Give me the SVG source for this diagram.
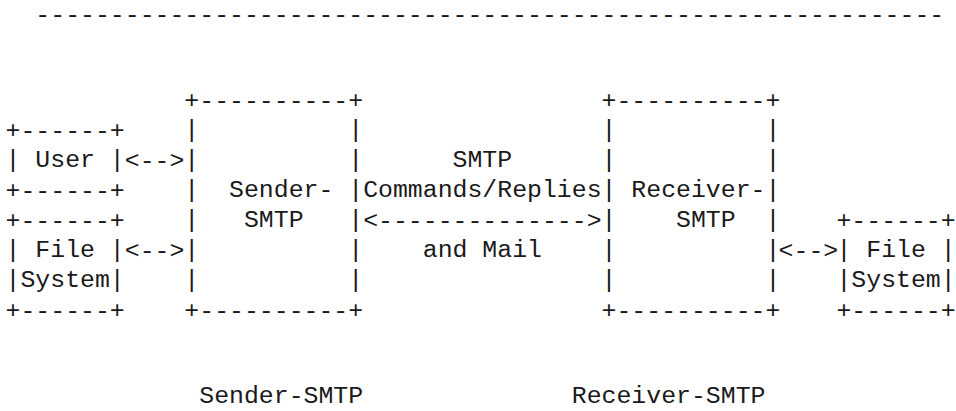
<svg xmlns="http://www.w3.org/2000/svg" width="956" height="411" viewBox="0 0 956 411" xml:space="preserve">
<style>
text { font-family: "Liberation Mono", "Courier New", monospace; font-size: 24.83px; fill: #1a1a1a; white-space: pre; }
</style>
<rect width="956" height="411" fill="#fff"/>
<g id="separator">
<text x="35.35" y="21.5">-------------------------------------------------------------</text>
</g>
<g id="user">
<text x="5.55" y="137.5">+------+</text>
<text x="5.55" y="166.7">| User |</text>
<text x="5.55" y="197.5">+------+</text>
</g>
<g id="file-system-sender">
<text x="5.55" y="227.5">+------+</text>
<text x="5.55" y="256.7">| File |</text>
<text x="5.55" y="286.7">|System|</text>
<text x="5.55" y="317.5">+------+</text>
</g>
<g id="sender-smtp">
<text x="184.35" y="107.5">+----------+</text>
<text x="184.35" y="136.7">|          |</text>
<text x="184.35" y="166.7">|          |</text>
<text x="184.35" y="196.7">|  Sender- |</text>
<text x="184.35" y="226.7">|   SMTP   |</text>
<text x="184.35" y="256.7">|          |</text>
<text x="184.35" y="286.7">|          |</text>
<text x="184.35" y="317.5">+----------+</text>
</g>
<g id="receiver-smtp">
<text x="601.55" y="107.5">+----------+</text>
<text x="601.55" y="136.7">|          |</text>
<text x="601.55" y="166.7">|          |</text>
<text x="601.55" y="196.7">| Receiver-|</text>
<text x="601.55" y="226.7">|    SMTP  |</text>
<text x="601.55" y="256.7">|          |</text>
<text x="601.55" y="286.7">|          |</text>
<text x="601.55" y="317.5">+----------+</text>
</g>
<g id="file-system-receiver">
<text x="836.45" y="227.5">+------+</text>
<text x="836.45" y="256.7">| File |</text>
<text x="836.45" y="286.7">|System|</text>
<text x="836.45" y="317.5">+------+</text>
</g>
<g id="connectors">
<text x="124.75" y="167.5">&lt;--&gt;</text>
<text x="124.75" y="257.5">&lt;--&gt;</text>
<text x="363.15" y="227.5">&lt;--------------&gt;</text>
<text x="778.6" y="257.5">&lt;--&gt;</text>
<text x="452.55" y="166.7">SMTP</text>
<text x="363.15" y="196.7">Commands/Replies</text>
<text x="422.75" y="256.7">and Mail</text>
</g>
<g id="labels">
<text x="199.25" y="403.3">Sender-SMTP</text>
<text x="571.75" y="403.3">Receiver-SMTP</text>
</g>
</svg>
